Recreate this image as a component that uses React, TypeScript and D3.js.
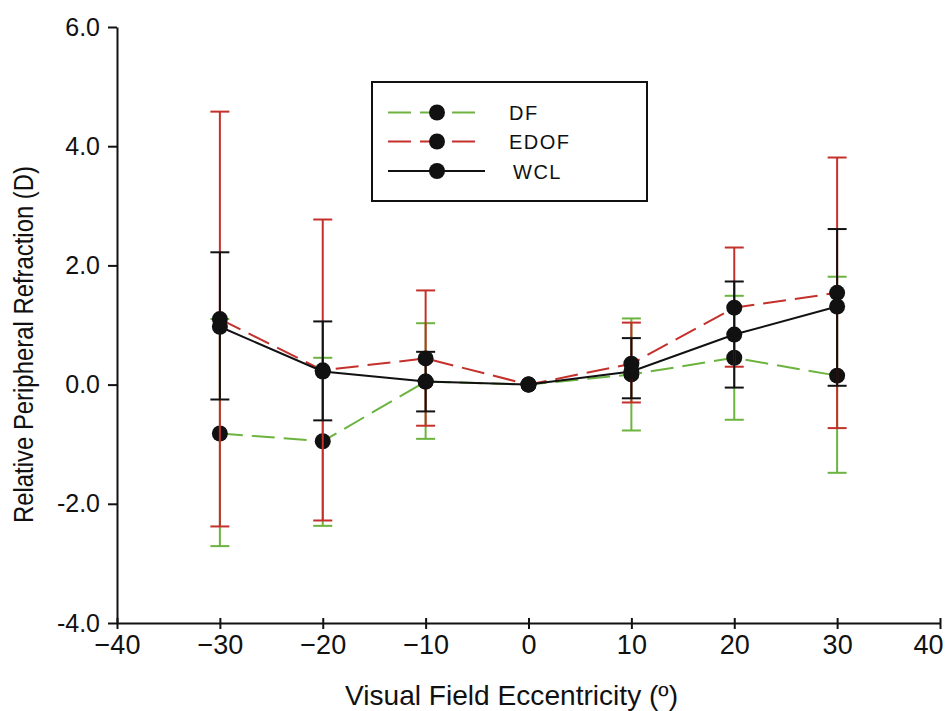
import React, { useRef, useEffect } from 'react';
import * as d3 from 'd3';

const ECCENTRICITY = [-30, -20, -10, 0, 10, 20, 30];

const DF_MEAN = [-0.82, -0.95, 0.05, 0, 0.17, 0.45, 0.15];
const DF_HI = [1.10, 0.45, 1.03, 0, 1.11, 1.49, 1.81];
const DF_LO = [-2.71, -2.37, -0.91, 0, -0.77, -0.59, -1.48];

const EDOF_MEAN = [1.10, 0.24, 0.44, 0, 0.35, 1.29, 1.54];
const EDOF_HI = [4.58, 2.77, 1.58, 0, 1.04, 2.30, 3.81];
const EDOF_LO = [-2.38, -2.28, -0.69, 0, -0.30, 0.30, -0.73];

const WCL_MEAN = [0.97, 0.22, 0.05, 0, 0.22, 0.84, 1.31];
const WCL_HI = [2.22, 1.06, 0.55, 0, 0.78, 1.73, 2.61];
const WCL_LO = [-0.25, -0.60, -0.45, 0, -0.23, -0.05, -0.02];

const X_TICKS = [-40, -30, -20, -10, 0, 10, 20, 30, 40];
const X_TICK_LABELS = ['\u221240', '\u221230', '\u221220', '\u221210', '0', '10', '20', '30', '40'];
const Y_TICKS = [-4, -2, 0, 2, 4, 6];
const Y_TICK_LABELS = ['-4.0', '-2.0', '0.0', '2.0', '4.0', '6.0'];

const SERIES = [
  { name: 'DF', mean: DF_MEAN, hi: DF_HI, lo: DF_LO, color: '#6cb33f', dash: '23,9' },
  { name: 'EDOF', mean: EDOF_MEAN, hi: EDOF_HI, lo: EDOF_LO, color: '#c4302b', dash: '23,9' },
  { name: 'WCL', mean: WCL_MEAN, hi: WCL_HI, lo: WCL_LO, color: '#111111', dash: null },
];

const FONT = 'Arial, "Liberation Sans", Helvetica, sans-serif';

export default function App() {
  const svgRef = useRef<SVGSVGElement>(null);

  useEffect(() => {
    document.body.style.margin = '0';
    if (!svgRef.current) return;
    const width = 945, height = 711;
    const svg = d3.select(svgRef.current);
    svg.selectAll('*').remove();
    svg.append('rect').attr('width', width).attr('height', height).attr('fill', '#ffffff');

    const x = d3.scaleLinear().domain([-40, 40]).range([117, 940]);
    const y = d3.scaleLinear().domain([-4, 6]).range([623, 27]);

    // axes
    const xAxis = svg.append('g').attr('transform', `translate(0,${y(-4)})`)
      .call(d3.axisBottom(x).tickValues(X_TICKS).tickSizeOuter(0).tickSizeInner(6).tickPadding(6)
        .tickFormat((_, i) => X_TICK_LABELS[i]));
    xAxis.select('.domain').attr('stroke', '#111').attr('stroke-width', 2);
    xAxis.selectAll('.tick line').attr('y1', -5).attr('y2', 6).attr('stroke', '#111').attr('stroke-width', 2);
    xAxis.selectAll('.tick text').attr('font-size', 27).attr('font-family', FONT).attr('fill', '#111');
    // last label sits flush with the right edge, as in the original
    xAxis.selectAll('.tick text').filter((_, i) => i === X_TICKS.length - 1)
      .attr('text-anchor', 'end').attr('x', 3);

    const yAxis = svg.append('g').attr('transform', `translate(${x(-40)},0)`)
      .call(d3.axisLeft(y).tickValues(Y_TICKS).tickSizeOuter(0).tickSizeInner(9).tickPadding(8)
        .tickFormat((_, i) => Y_TICK_LABELS[i]));
    yAxis.select('.domain').attr('stroke', '#111').attr('stroke-width', 2);
    yAxis.selectAll('.tick line').attr('stroke', '#111').attr('stroke-width', 2);
    yAxis.selectAll('.tick text').attr('font-size', 25).attr('font-family', FONT).attr('fill', '#111');

    // axis titles
    svg.append('text').attr('x', 345).attr('y', 705)
      .attr('font-size', 28).attr('font-family', FONT).attr('fill', '#111')
      .attr('textLength', 333).attr('lengthAdjust', 'spacingAndGlyphs')
      .text('Visual Field Eccentricity (\u00ba)');
    svg.append('text').attr('transform', `translate(33,523) rotate(-90)`)
      .attr('font-size', 27).attr('font-family', FONT).attr('fill', '#111')
      .attr('textLength', 357).attr('lengthAdjust', 'spacingAndGlyphs')
      .text('Relative Peripheral Refraction (D)');

    const capW = 9.5;
    SERIES.forEach((s) => {
      const g = svg.append('g');
      ECCENTRICITY.forEach((e, i) => {
        if (s.hi[i] === s.lo[i]) return;
        g.append('line').attr('x1', x(e)).attr('x2', x(e)).attr('y1', y(s.hi[i])).attr('y2', y(s.lo[i]))
          .attr('stroke', s.color).attr('stroke-width', 2);
        [s.hi[i], s.lo[i]].forEach((v) => {
          g.append('line').attr('x1', x(e) - capW).attr('x2', x(e) + capW).attr('y1', y(v)).attr('y2', y(v))
            .attr('stroke', s.color).attr('stroke-width', 2);
        });
      });
      const line = d3.line<number>().x((_, i) => x(ECCENTRICITY[i])).y((d) => y(d));
      g.append('path').datum(s.mean).attr('d', line).attr('fill', 'none')
        .attr('stroke', s.color).attr('stroke-width', 2)
        .attr('stroke-dasharray', s.dash ?? null);
      g.selectAll('circle').data(s.mean).enter().append('circle')
        .attr('cx', (_, i) => x(ECCENTRICITY[i])).attr('cy', (d) => y(d)).attr('r', 8)
        .attr('fill', '#111');
    });

    // legend
    const lg = svg.append('g');
    lg.append('rect').attr('x', 372).attr('y', 82).attr('width', 275).attr('height', 119)
      .attr('fill', '#fff').attr('stroke', '#111').attr('stroke-width', 2);
    const rowY = [112.5, 141.5, 171];
    SERIES.forEach((s, i) => {
      lg.append('line').attr('x1', 388).attr('x2', s.dash ? 477 : 485).attr('y1', rowY[i]).attr('y2', rowY[i])
        .attr('stroke', s.color).attr('stroke-width', 2).attr('stroke-dasharray', s.dash ?? null);
      lg.append('circle').attr('cx', 437).attr('cy', rowY[i]).attr('r', 8).attr('fill', '#111');
      lg.append('text').attr('x', s.name === 'WCL' ? 513 : 509).attr('y', rowY[i] + 7.5)
        .attr('font-size', 20).attr('letter-spacing', 1.5).attr('font-family', FONT).attr('fill', '#111')
        .text(s.name);
    });
  }, []);

  return <svg ref={svgRef} width={945} height={711} style={{ display: 'block' }} />;
}
